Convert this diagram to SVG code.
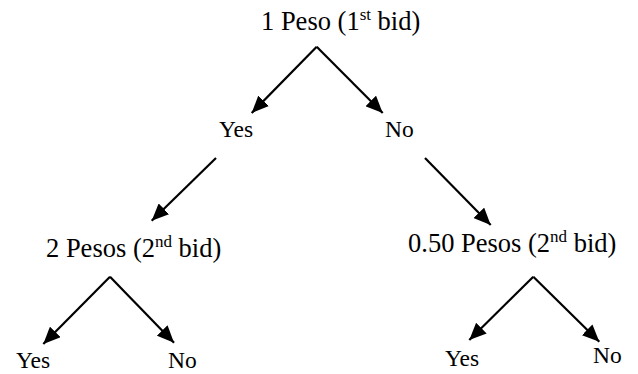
<svg xmlns="http://www.w3.org/2000/svg" width="638" height="374" viewBox="0 0 638 374">
<style>
text{font-family:'Liberation Serif','Times New Roman',serif;fill:#000}
.b{font-size:26.5px}
.a{font-size:23.5px}
.sup{font-size:17px}
.c line{stroke:#000;stroke-width:2.2;marker-end:url(#ah)}
</style>
<defs>
<marker id="ah" markerUnits="userSpaceOnUse" markerWidth="17" markerHeight="15" refX="17" refY="7.5" orient="auto">
<path d="M0,0 L17,7.5 L0,15 Z" fill="#000"/>
</marker>
</defs>
<rect width="638" height="374" fill="#fff"/>
<g id="root"><text class="b" x="261" y="30">1 Peso (1<tspan class="sup" dy="-10">st</tspan><tspan dy="10"> bid)</tspan></text></g>
<g id="yes1"><text class="a" x="219" y="137">Yes</text></g>
<g id="no1"><text class="a" x="385" y="137">No</text></g>
<g id="bid2a"><text class="b" x="46" y="257">2 Pesos (2<tspan class="sup" dy="-10">nd</tspan><tspan dy="10"> bid)</tspan></text></g>
<g id="bid2b"><text class="b" x="408" y="252">0.50 Pesos (2<tspan class="sup" dy="-10">nd</tspan><tspan dy="10"> bid)</tspan></text></g>
<g id="yes2a"><text class="a" x="16" y="368">Yes</text></g>
<g id="no2a"><text class="a" x="168" y="368">No</text></g>
<g id="yes2b"><text class="a" x="445" y="366">Yes</text></g>
<g id="no2b"><text class="a" x="593" y="363">No</text></g>
<g class="c" id="connectors">
<line x1="316.7" y1="46.7" x2="251.7" y2="113"/>
<line x1="316.7" y1="46.7" x2="382.7" y2="113"/>
<line x1="216" y1="158" x2="151.7" y2="220.7"/>
<line x1="425" y1="158" x2="490.7" y2="225"/>
<line x1="110" y1="276.7" x2="43.3" y2="344"/>
<line x1="110" y1="276.7" x2="174" y2="342.7"/>
<line x1="533.3" y1="276.7" x2="469.3" y2="340"/>
<line x1="533.3" y1="276.7" x2="599.3" y2="341.7"/>
</g>
</svg>
